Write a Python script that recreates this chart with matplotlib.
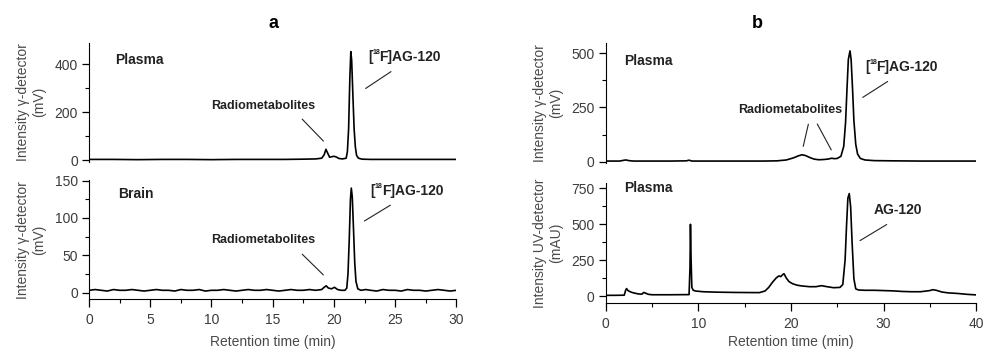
import numpy as np
import matplotlib.pyplot as plt
from matplotlib.ticker import MultipleLocator

# Arial-like font everywhere
plt.rcParams['font.family'] = ['Liberation Sans', 'DejaVu Sans']

# ---- panel a, plasma (gamma detector, mV)
a_plasma_t = [0, 2, 4, 6, 8, 10, 12, 14, 16, 17.5, 18.5, 19.0, 19.2, 19.35, 19.5, 19.65, 19.8,
              20.0, 20.2, 20.4, 20.7, 21.0, 21.1, 21.2, 21.3, 21.38, 21.45, 21.55, 21.65,
              21.75, 21.85, 22.0, 22.3, 23, 25, 27, 30]
a_plasma_v = [3, 3, 2, 3, 3, 2, 3, 3, 3, 4, 5, 8, 22, 45, 28, 12, 14,
              16, 13, 7, 5, 8, 35, 130, 340, 452, 415, 270, 130,
              55, 20, 8, 4, 3, 3, 3, 3]

# ---- panel a, brain (gamma detector, mV)
a_brain_t = [0, 0.5, 1.0, 1.5, 2.0, 2.5, 3.0, 3.5, 4.0, 4.5, 5.0, 5.5, 6.0, 6.5, 7.0, 7.5,
             8.0, 8.5, 9.0, 9.5, 10.0, 10.5, 11.0, 11.5, 12.0, 12.5, 13.0, 13.5, 14.0,
             14.5, 15.0, 15.5, 16.0, 16.5, 17.0, 17.5, 18.0, 18.5, 19.0, 19.2, 19.37,
             19.55, 19.8, 20.05, 20.3, 20.6, 20.9, 21.05, 21.15, 21.25, 21.35, 21.42,
             21.5, 21.6, 21.7, 21.8, 21.95, 22.2, 22.6, 23.0, 23.5, 24.0, 24.5, 25.0,
             25.5, 26.0, 26.5, 27.0, 27.5, 28.0, 28.5, 29.0, 29.5, 30.0]
a_brain_v = [3, 4, 3, 2, 4, 3, 3, 4, 3, 2, 3, 4, 3, 3, 2, 4,
             3, 3, 4, 2, 3, 3, 4, 3, 2, 3, 4, 3, 3,
             4, 3, 2, 3, 4, 3, 3, 4, 3, 4, 7, 9,
             6, 5, 7, 4, 3, 3, 6, 25, 70, 125, 140,
             128, 85, 40, 15, 5, 3, 4, 3, 2, 4, 3, 3,
             2, 4, 3, 3, 2, 3, 4, 3, 2, 3]

# ---- panel b, plasma (gamma detector, mV)
b_gamma_t = [0, 1.5, 2.0, 2.2, 2.5, 3, 5, 7, 8.7, 9.0, 9.3, 11, 13, 15, 17, 18.5, 19.5,
             20.3, 20.8, 21.2, 21.6, 22.0, 22.5, 23, 23.5, 24.0, 24.4, 24.7, 25.0, 25.4,
             25.7, 25.9, 26.05, 26.2, 26.38, 26.5, 26.65, 26.8, 27.0, 27.2, 27.5, 28, 29,
             31, 34, 37, 40]
b_gamma_v = [3, 3, 7, 8, 5, 3, 3, 3, 4, 7, 3, 3, 3, 3, 3, 4, 8,
             18, 27, 32, 28, 20, 12, 9, 10, 12, 16, 14, 15, 25,
             70, 180, 330, 470, 510, 470, 340, 190, 80, 35, 15, 8, 5,
             4, 3, 3, 3]

# ---- panel b, plasma (UV detector, mAU)
b_uv_t = [0, 1, 2.0, 2.15, 2.25, 2.4, 2.7, 3.0, 3.5, 3.9, 4.1, 4.3, 4.6, 5.0, 7, 9.0, 9.1,
          9.15, 9.22, 9.3, 9.45, 9.7, 10.5, 12, 14, 16, 16.6, 17.2, 17.6, 18.0, 18.4, 18.7,
          18.9, 19.1, 19.25, 19.5, 19.8, 20.2, 20.7, 21.2, 22.0, 22.7, 23.3, 23.9, 24.6,
          25.3, 25.6, 25.85, 26.0, 26.15, 26.3, 26.45, 26.6, 26.8, 27.0, 27.3, 28, 29, 30,
          31, 32, 33, 34, 35, 35.3, 35.7, 36.3, 37, 38, 39, 40]
b_uv_v = [5, 5, 6, 40, 52, 38, 28, 22, 15, 13, 25, 20, 12, 9, 9, 10, 200,
          498, 250, 60, 40, 35, 30, 27, 25, 24, 24, 35, 60, 95, 125, 140,
          135, 148, 155, 125, 100, 85, 75, 70, 65, 65, 72, 65, 58,
          60, 80, 250, 480, 680, 712, 620, 380, 120, 50, 42, 40, 40, 38,
          36, 32, 30, 30, 38, 44, 40, 28, 22, 18, 12, 8]

TICK_C = '#3c3c3c'
LBL_C = '#4a4a4a'
TXT_C = '#222222'


def setup(ax, ylim, ymaj, ymin, xmax, xmaj, xmin, ylabel, bottom, xpad=6):
    ax.set_xlim(0, xmax)
    ax.set_ylim(*ylim)
    ax.spines['top'].set_visible(False)
    ax.spines['right'].set_visible(False)
    ax.yaxis.set_major_locator(MultipleLocator(ymaj))
    ax.yaxis.set_minor_locator(MultipleLocator(ymin))
    ax.tick_params(axis='y', which='major', length=5, width=0.9, labelsize=10,
                   labelcolor=TICK_C, pad=3)
    ax.tick_params(axis='y', which='minor', length=3, width=0.8)
    # no tick below zero
    ax.set_yticks([t for t in ax.get_yticks() if ylim[0] <= t <= ylim[1]])
    ax.set_ylabel(ylabel, fontsize=10, color=LBL_C, labelpad=6, linespacing=1.2)
    if bottom:
        ax.xaxis.set_major_locator(MultipleLocator(xmaj))
        ax.xaxis.set_minor_locator(MultipleLocator(xmin))
        ax.tick_params(axis='x', which='major', length=6, width=0.9, labelsize=10,
                       labelcolor=TICK_C, pad=4)
        ax.tick_params(axis='x', which='minor', length=3, width=0.8)
        ax.set_xlabel('Retention time (min)', fontsize=10, color=LBL_C, labelpad=xpad)
    else:
        ax.spines['bottom'].set_visible(False)
        ax.set_xticks([])
        ax.xaxis.set_minor_locator(plt.NullLocator())


def leader(ax, p1, p2):
    ax.annotate('', xy=p2, xytext=p1, arrowprops=dict(arrowstyle='-', lw=0.8, color=TXT_C))


# [18F]AG-120 with a tiny superscript, built from three pieces
def label18(ax, x, y):
    ax.annotate('[', (x, y), va='center', ha='left', fontweight='bold', fontsize=10, color=TXT_C)
    ax.annotate('18', (x, y), xytext=(3.0, 3.2), textcoords='offset points', va='center',
                ha='left', fontweight='bold', fontsize=5, color=TXT_C)
    ax.annotate('F]AG-120', (x, y), xytext=(8.2, 0), textcoords='offset points', va='center',
                ha='left', fontweight='bold', fontsize=10, color=TXT_C)


fig = plt.figure(figsize=(9.93, 3.5), dpi=100, facecolor='white')
ax1 = fig.add_axes([0.0896, 0.537, 0.370, 0.341])
ax2 = fig.add_axes([0.0896, 0.145, 0.370, 0.341])
ax3 = fig.add_axes([0.610, 0.533, 0.373, 0.344])
ax4 = fig.add_axes([0.610, 0.134, 0.373, 0.343])

gam = 'Intensity γ-detector\n(mV)'
bold = dict(fontweight='bold', fontsize=10, color=TXT_C)
small = dict(fontweight='bold', fontsize=9, color=TXT_C)

# a top
ax1.plot(a_plasma_t, a_plasma_v, color='black', lw=1.2)
setup(ax1, (-8, 489), 200, 100, 30, 5, 2.5, gam, False)
ax1.text(2.1, 417, 'Plasma', va='center', ha='left', **bold)
label18(ax1, 22.8, 429)
leader(ax1, (24.85, 375), (22.4, 292))
ax1.text(14.2, 225, 'Radiometabolites', va='center', ha='center', **small)
leader(ax1, (17.25, 179), (19.3, 71))

# a bottom
ax2.plot(a_brain_t, a_brain_v, color='black', lw=1.2)
setup(ax2, (-9, 151), 50, 25, 30, 5, 2.5, gam, True)
ax2.text(2.4, 132, 'Brain', va='center', ha='left', **bold)
label18(ax2, 23.0, 136)
leader(ax2, (24.8, 119), (22.3, 94))
ax2.text(14.2, 70, 'Radiometabolites', va='center', ha='center', **small)
leader(ax2, (17.25, 54), (19.3, 21))

# b top
ax3.plot(b_gamma_t, b_gamma_v, color='black', lw=1.2)
setup(ax3, (-8, 546), 250, 125, 40, 10, 5, gam, False)
ax3.text(2.0, 463, 'Plasma', va='center', ha='left', **bold)
label18(ax3, 28.0, 436)
leader(ax3, (30.7, 376), (27.5, 289))
ax3.text(19.9, 238, 'Radiometabolites', va='center', ha='center', **small)
leader(ax3, (21.95, 185), (21.26, 58))
leader(ax3, (22.7, 185), (24.5, 43))

# b bottom
ax4.plot(b_uv_t, b_uv_v, color='black', lw=1.2)
setup(ax4, (-49, 785), 250, 125, 40, 10, 5, 'Intensity UV-detector\n(mAU)', True, xpad=3)
ax4.text(2.0, 750, 'Plasma', va='center', ha='left', **bold)
ax4.text(28.9, 597, 'AG-120', va='center', ha='left', **bold)
leader(ax4, (30.6, 507), (27.2, 375))

fig.text(0.275, 0.934, 'a', fontsize=13, fontweight='bold', ha='center', va='center')
fig.text(0.763, 0.934, 'b', fontsize=13, fontweight='bold', ha='center', va='center')

fig.savefig('out.png', dpi=100)
